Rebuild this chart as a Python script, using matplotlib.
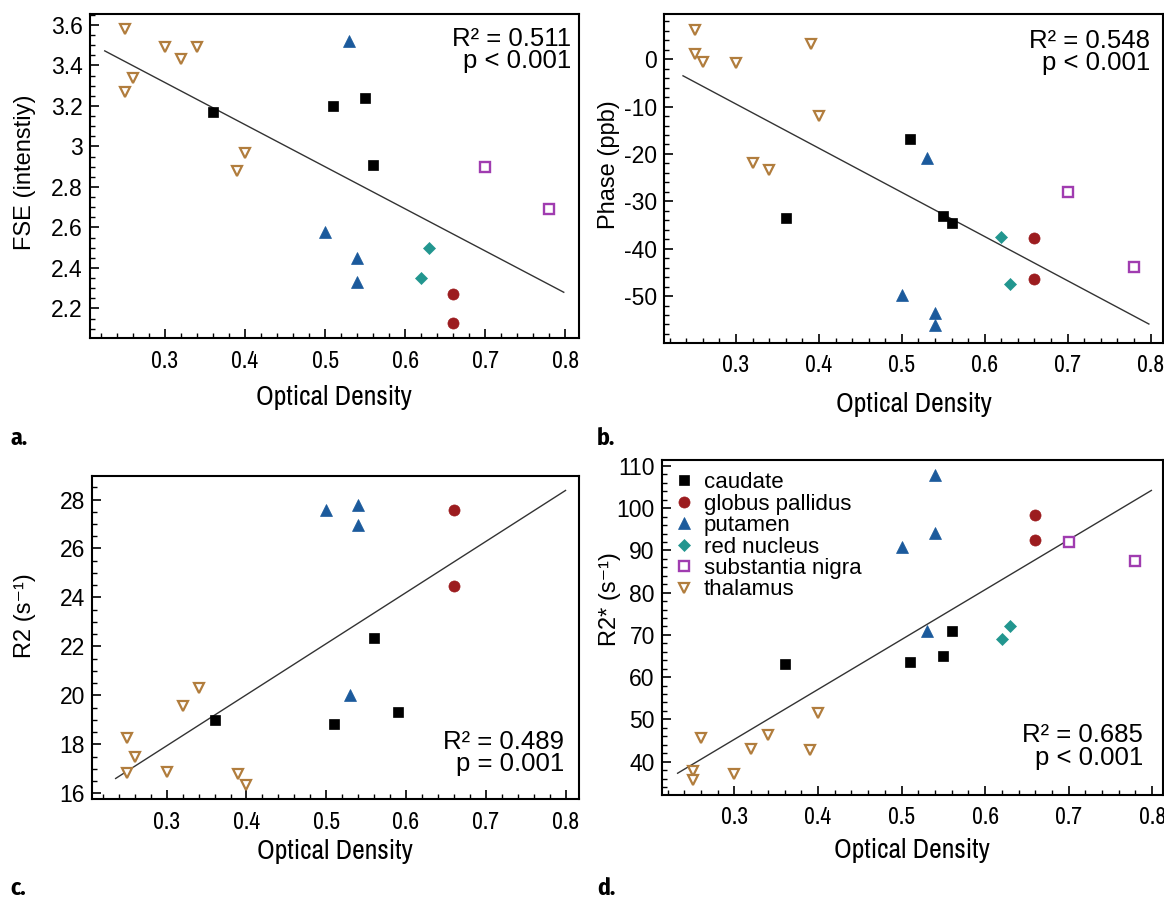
import numpy as np
import matplotlib.pyplot as plt
from matplotlib.ticker import MultipleLocator, FormatStrFormatter

plt.rcParams['font.family'] = ['Liberation Sans', 'DejaVu Sans']
plt.rcParams['axes.unicode_minus'] = False
NARROW = 'Archivo Narrow'
NARROW_BOLD = 'Fira Sans Condensed'

regions = ['caudate', 'globus pallidus', 'putamen', 'red nucleus', 'substantia nigra', 'thalamus']

# a. FSE
fse_od = {'caudate': [0.36, 0.51, 0.55, 0.56],
          'globus pallidus': [0.66, 0.66],
          'putamen': [0.53, 0.50, 0.54, 0.54],
          'red nucleus': [0.63, 0.62],
          'substantia nigra': [0.70, 0.78],
          'thalamus': [0.25, 0.30, 0.32, 0.34, 0.26, 0.25, 0.40, 0.39]}
fse_val = {'caudate': [3.17, 3.20, 3.24, 2.91],
           'globus pallidus': [2.27, 2.13],
           'putamen': [3.52, 2.58, 2.45, 2.33],
           'red nucleus': [2.50, 2.35],
           'substantia nigra': [2.90, 2.69],
           'thalamus': [3.58, 3.49, 3.43, 3.49, 3.34, 3.27, 2.97, 2.88]}
fse_fit = ([0.225, 0.798], [3.472, 2.28])

# b. Phase
phase_od = {'caudate': [0.36, 0.51, 0.55, 0.56],
            'globus pallidus': [0.66, 0.66],
            'putamen': [0.53, 0.50, 0.54, 0.54],
            'red nucleus': [0.62, 0.63],
            'substantia nigra': [0.70, 0.78],
            'thalamus': [0.25, 0.25, 0.26, 0.30, 0.39, 0.40, 0.32, 0.34]}
phase_val = {'caudate': [-33.5, -16.9, -33.1, -34.5],
             'globus pallidus': [-37.8, -46.5],
             'putamen': [-20.8, -49.7, -53.6, -56.2],
             'red nucleus': [-37.5, -47.5],
             'substantia nigra': [-28.1, -43.9],
             'thalamus': [6.2, 1.2, -0.6, -0.9, 3.2, -12.0, -22.0, -23.4]}
phase_fit = ([0.236, 0.798], [-3.5, -55.9])

# c. R2
r2_od = {'caudate': [0.36, 0.51, 0.56, 0.59],
         'globus pallidus': [0.66, 0.66],
         'putamen': [0.50, 0.54, 0.54, 0.53],
         'thalamus': [0.25, 0.26, 0.25, 0.30, 0.32, 0.34, 0.39, 0.40]}
r2_val = {'caudate': [19.0, 18.84, 22.35, 19.34],
          'globus pallidus': [27.56, 24.46],
          'putamen': [27.59, 27.79, 26.97, 20.02],
          'thalamus': [18.26, 17.5, 16.82, 16.89, 19.55, 20.29, 16.78, 16.34]}
r2_fit = ([0.236, 0.80], [16.61, 28.37])

# d. R2*
r2s_od = {'caudate': [0.36, 0.51, 0.55, 0.56],
          'globus pallidus': [0.66, 0.66],
          'putamen': [0.54, 0.54, 0.50, 0.53],
          'red nucleus': [0.62, 0.63],
          'substantia nigra': [0.70, 0.78],
          'thalamus': [0.25, 0.25, 0.26, 0.30, 0.32, 0.34, 0.39, 0.40]}
r2s_val = {'caudate': [63.1, 63.7, 65.1, 70.9],
           'globus pallidus': [98.4, 92.4],
           'putamen': [107.8, 94.1, 90.9, 70.9],
           'red nucleus': [69.0, 72.1],
           'substantia nigra': [91.9, 87.6],
           'thalamus': [37.7, 35.7, 45.5, 37.1, 42.9, 46.4, 42.7, 51.6]}
r2s_fit = ([0.232, 0.799], [37.25, 104.2])

styles = {
    'caudate': dict(marker='s', ms=7.5, mfc='black', mec='black', mew=0.5),
    'globus pallidus': dict(marker='o', ms=8, mfc='#9c1c1f', mec='#9c1c1f', mew=0.5),
    'putamen': dict(marker='^', ms=8, mfc='#1b5a9c', mec='#1b5a9c', mew=0.5),
    'red nucleus': dict(marker='D', ms=5.8, mfc='#22968f', mec='#22968f', mew=0.5),
    'substantia nigra': dict(marker='s', ms=6.8, mfc='white', mec='#a03cb0', mew=1.7),
    'thalamus': dict(marker='v', ms=7, mfc='white', mec='#b17d3d', mew=1.6),
}

fig = plt.figure(figsize=(11.64, 8.99), dpi=100)

panels = [
    dict(pos=[0.0769, 0.624, 0.4205, 0.3604], od=fse_od, val=fse_val, fit=fse_fit,
         ylim=(2.054, 3.654), major=0.2, minor=0.05, fmt='%g', ylabel='FSE (intenstiy)',
         stats=('R\u00b2 = 0.511', 'p < 0.001'), sx=0.984, sy=(0.923, 0.855),
         xlim=(0.206, 0.817), ylc=(-0.109, 0.512), xlpad=10, tag='a.', tagpos=(0.009, 0.505)),
    dict(pos=[0.5704, 0.6185, 0.4287, 0.366], od=phase_od, val=phase_val, fit=phase_fit,
         ylim=(-59.9, 9.56), major=10, minor=2, fmt='%d', ylabel='Phase (ppb)',
         stats=('R\u00b2 = 0.548', 'p < 0.001'), sx=0.974, sy=(0.918, 0.851),
         xlim=(0.213, 0.815), ylc=(-0.088, 0.541), xlpad=11, tag='b.', tagpos=(0.513, 0.505)),
    dict(pos=[0.0788, 0.1112, 0.4187, 0.3596], od=r2_od, val=r2_val, fit=r2_fit,
         ylim=(15.77, 28.97), major=2, minor=0.5, fmt='%d', ylabel='R2 (s\u207b\u00b9)',
         stats=('R\u00b2 = 0.489', 'p = 0.001'), sx=0.969, sy=(0.176, 0.108),
         xlim=(0.206, 0.817), ylc=(-0.114, 0.567), xlpad=5, tag='c.', tagpos=(0.009, 0.005)),
    dict(pos=[0.5685, 0.1157, 0.4307, 0.3726], od=r2s_od, val=r2s_val, fit=r2s_fit,
         ylim=(32.1, 111.4), major=10, minor=2, fmt='%d', ylabel='R2* (s\u207b\u00b9)',
         stats=('R\u00b2 = 0.685', 'p < 0.001'), sx=0.96, sy=(0.179, 0.110),
         xlim=(0.213, 0.813), ylc=(-0.082, 0.585), xlpad=7, tag='d.', tagpos=(0.513, 0.005)),
]

for p in panels:
    ax = fig.add_axes(p['pos'])
    ax.plot(p['fit'][0], p['fit'][1], color='#333333', lw=1.0, zorder=2)
    for r in regions:
        if r in p['od']:
            ax.plot(p['od'][r], p['val'][r], ls='none', label=r, zorder=3, **styles[r])
    ax.set_xlim(*p['xlim'])
    ax.set_ylim(*p['ylim'])
    ax.xaxis.set_major_locator(MultipleLocator(0.1))
    ax.xaxis.set_minor_locator(MultipleLocator(0.02))
    ax.xaxis.set_major_formatter(FormatStrFormatter('%g'))
    ax.yaxis.set_major_locator(MultipleLocator(p['major']))
    ax.yaxis.set_minor_locator(MultipleLocator(p['minor']))
    ax.yaxis.set_major_formatter(FormatStrFormatter(p['fmt']))
    ax.tick_params(which='both', direction='in', top=False, right=False, colors='black')
    ax.tick_params(which='major', length=6.5, width=1.2)
    ax.tick_params(axis='x', which='major', pad=9, labelsize=17, labelfontfamily=NARROW)
    ax.tick_params(axis='y', which='major', pad=5, labelsize=16.5)
    ax.tick_params(which='minor', length=3.5, width=1.0)
    for s in ax.spines.values():
        s.set_linewidth(1.5)
    ax.set_xlabel('Optical Density', fontsize=20, labelpad=p['xlpad'], family=NARROW)
    ax.set_ylabel(p['ylabel'], fontsize=17)
    ax.yaxis.set_label_coords(*p['ylc'])
    ax.text(p['sx'], p['sy'][0], p['stats'][0], transform=ax.transAxes, ha='right', va='center', fontsize=18.5)
    ax.text(p['sx'], p['sy'][1], p['stats'][1], transform=ax.transAxes, ha='right', va='center', fontsize=18.5)
    fig.text(p['tagpos'][0], p['tagpos'][1], p['tag'], fontsize=17, fontweight='bold', family=NARROW_BOLD)
    if p['tag'] == 'd.':
        ax.legend(loc='upper left', bbox_to_anchor=(0.0, 1.0), frameon=False, fontsize=16,
                  handlelength=0.9, handletextpad=0.45, labelspacing=0.02, borderaxespad=0.4,
                  borderpad=0.15)

fig.savefig('out.png', dpi=100)
